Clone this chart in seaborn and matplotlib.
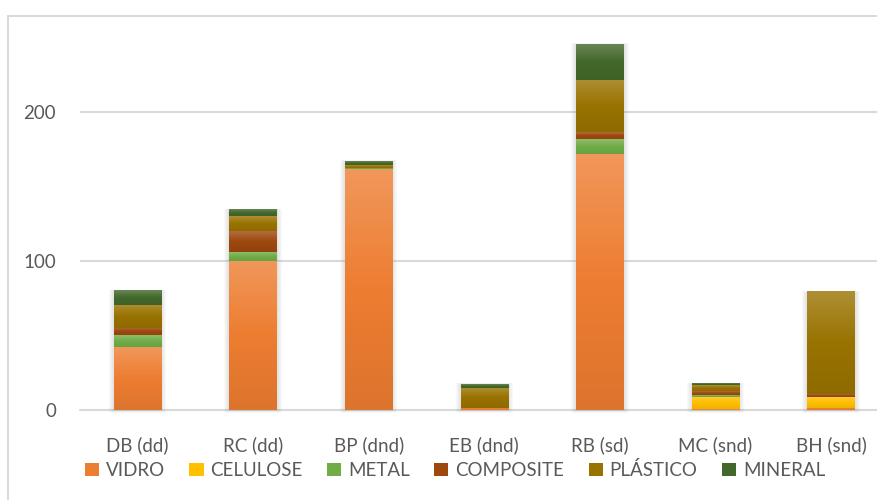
import numpy as np
import pandas as pd
import matplotlib
matplotlib.use("Agg")
import matplotlib.pyplot as plt
import seaborn as sns
from matplotlib.colors import to_rgb
from matplotlib.patches import Patch, Rectangle

# Waste composition per site (stacked by material)
categories = ["DB (dd)", "RC (dd)", "BP (dnd)", "EB (dnd)", "RB (sd)", "MC (snd)", "BH (snd)"]
vidro = [42, 100, 161.5, 1.5, 172, 0.5, 1.5]
celulose = [0, 0, 0, 0, 0, 8.5, 7]
metal = [8, 6, 1, 0, 10, 1, 0]
composite = [5, 14, 0, 0, 4.5, 2.5, 2]
plastico = [15.5, 10, 2, 13.5, 35, 4, 68.5]
mineral = [9.5, 4.5, 2.5, 2.5, 24, 1, 0]

materials = ["VIDRO", "CELULOSE", "METAL", "COMPOSITE", "PLÁSTICO", "MINERAL"]
colors = ["#ED7D31", "#FFC000", "#70AD47", "#9E480E", "#997300", "#43682B"]
y_ticks = [0, 100, 200]

df = pd.DataFrame({
    "categoria": categories,
    "VIDRO": vidro,
    "CELULOSE": celulose,
    "METAL": metal,
    "COMPOSITE": composite,
    "PLÁSTICO": plastico,
    "MINERAL": mineral,
})

sns.set_theme(style="white")
plt.rcParams["font.family"] = ["Lato", "DejaVu Sans"]
TEXT = "#595959"
GRID = "#D9D9D9"
FS = 13.5

W, H = 877, 500
fig = plt.figure(figsize=(W / 100, H / 100), dpi=100)
ax = fig.add_axes([79.7 / W, 90 / H, 809.3 / W, 380 / H])

YMAX = 255
bar_w = 0.41

bottom = np.zeros(len(categories))
segments = []
for name, color in zip(materials, colors):
    n_before = len(ax.patches)
    sns.barplot(data=df, x="categoria", y=name, order=categories, color=color,
                saturation=1, width=bar_w, errorbar=None, bottom=bottom,
                linewidth=0, ax=ax, zorder=3)
    for p in ax.patches[n_before:]:
        segments.append((p, color))
    bottom = bottom + df[name].to_numpy()

xlim = (-0.5, len(categories) - 0.5)
ax.set_xlim(*xlim)
ax.set_ylim(0, YMAX)

# per-pixel sizes in data units
px_x = (xlim[1] - xlim[0]) / 809.3
px_y = YMAX / 380

# soft shadow behind each full stack
for i, total in enumerate(bottom):
    x0 = i - bar_w / 2
    for k in range(1, 6):
        ax.add_patch(Rectangle((x0 - k * px_x, -k * px_y * 0.6),
                               bar_w + 2 * k * px_x, total + k * px_y * 0.8,
                               facecolor="#7F7F7F", edgecolor="none",
                               alpha=0.045, zorder=2, clip_on=False))

# vertical gradient on each segment: lighter at the top, darker at the bottom
t = np.linspace(0, 1, 96)[:, None]
for p, color in segments:
    h = p.get_height()
    if h <= 0:
        continue
    base = np.array(to_rgb(color))
    light = base + (1 - base) * 0.2
    dark = base * 0.93
    top_half = light + (base - light) * np.clip(t / 0.5, 0, 1)
    bot_half = base + (dark - base) * np.clip((t - 0.5) / 0.5, 0, 1)
    grad = np.where(t < 0.5, top_half, bot_half)
    img = grad[:, None, :]
    x0 = p.get_x()
    ax.imshow(img, extent=[x0, x0 + p.get_width(), p.get_y(), p.get_y() + h],
              aspect="auto", origin="upper", interpolation="bilinear",
              zorder=3.5)

ax.set_xlim(*xlim)
ax.set_ylim(0, YMAX)

ax.set_yticks(y_ticks)
ax.yaxis.grid(True, color=GRID, linewidth=1.5, zorder=0)
ax.set_axisbelow(True)
ax.axhline(0, color=GRID, linewidth=1.5, zorder=1, clip_on=False)
for s in ax.spines.values():
    s.set_visible(False)
ax.set_xlabel("")
ax.set_ylabel("")
ax.tick_params(axis="y", length=0, pad=17, labelsize=FS, labelcolor=TEXT)
ax.tick_params(axis="x", length=0, pad=19, labelsize=FS, labelcolor=TEXT)

# chart frame
fig.add_artist(Rectangle((8 / W, -0.2), 1.2, 1.2 - 16 / H, transform=fig.transFigure,
                         fill=False, edgecolor=GRID, linewidth=1.4))

handles = [Patch(facecolor=c, edgecolor="none", label=m) for m, c in zip(materials, colors)]
fig.legend(handles=handles, loc="center", bbox_to_anchor=(455 / W, 1 - 470 / H),
           ncol=6, frameon=False, fontsize=FS, labelcolor=TEXT,
           handlelength=0.75, handleheight=0.75, handletextpad=0.37,
           columnspacing=1.3, borderaxespad=0, borderpad=0)

fig.savefig("out.png", dpi=100)
